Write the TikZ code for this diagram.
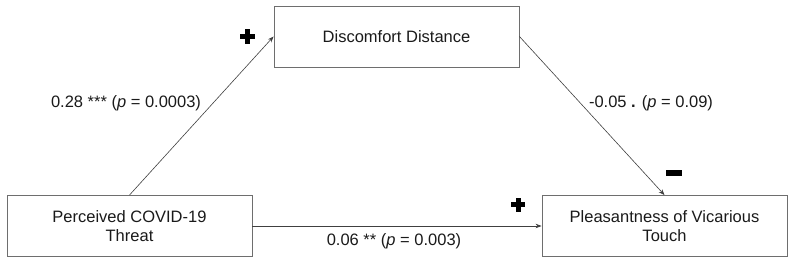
\documentclass[tikz,border=0pt]{standalone}
\usepackage{fontspec}
\setmainfont{Liberation Sans}
\usetikzlibrary{arrows.meta}
\definecolor{boxline}{HTML}{6E6E6E}
\definecolor{arrline}{HTML}{404040}
\definecolor{txt}{HTML}{1A1A1A}
\begin{document}
\begin{tikzpicture}[x=1pt,y=-1pt,
  varbox/.style={draw=boxline,line width=0.9pt,minimum width=245pt,minimum height=61pt,
    align=center,inner sep=0pt,text=txt,font=\fontsize{16.5}{19.5}\selectfont},
  lbl/.style={text=txt,inner sep=0pt,font=\fontsize{16.5}{19.5}\selectfont},
  arr/.style={draw=arrline,line width=0.6pt,-{Stealth[length=6pt,width=4.5pt]}},
  sign/.style={fill=black,draw=none}]
\useasboundingbox (0,0) rectangle (789,261);
\node[varbox] (med) at (396.5,36.5) {Discomfort Distance};
\node[varbox] (x) at (129.5,226) {Perceived COVID-19\\Threat};
\node[varbox] (y) at (664.5,226) {Pleasantness of Vicarious\\Touch};
\draw[arr] (x.north) -- (med.west);
\draw[arr] (med.east) -- (y.north);
\draw[arr] (x.east) -- (y.west);
\node[lbl] (la) at (126,103) {0.28 *** (\textit{p} = 0.0003)};
\node[lbl] (lb) at (651,103) {-0.05 \textbf{.} (\textit{p} = 0.09)};
\node[lbl] (lc) at (394,241) {0.06 ** (\textit{p} = 0.003)};
% plus signs and minus sign
\fill[sign] (239.5,34) rectangle (254.5,39);
\fill[sign] (244.5,29) rectangle (249.5,44);
\fill[sign] (511,202.5) rectangle (525,207.5);
\fill[sign] (515.5,198) rectangle (520.5,212);
\fill[sign] (666,170) rectangle (682,176);
\end{tikzpicture}
\end{document}
